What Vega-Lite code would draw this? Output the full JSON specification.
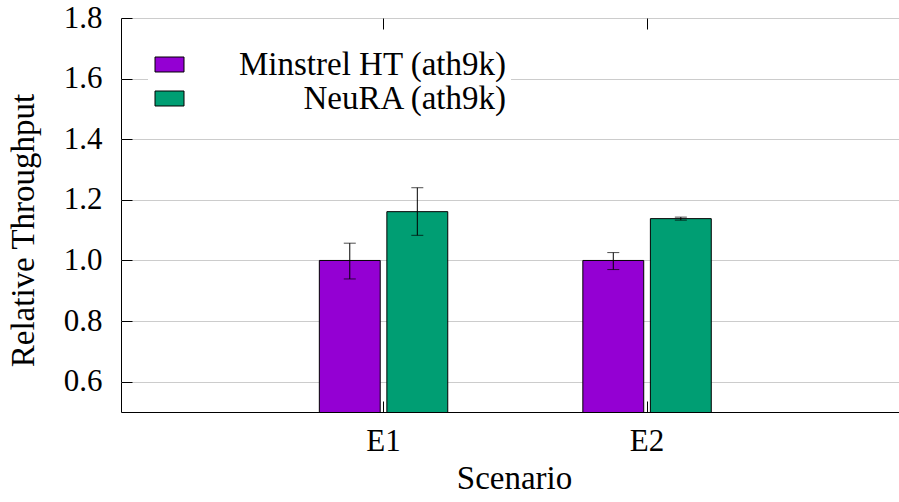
{
  "$schema": "https://vega.github.io/schema/vega-lite/v6.json",
  "width": 780,
  "height": 394,
  "autosize": {"type": "none"},
  "padding": {"left": 121, "top": 18, "right": 0, "bottom": 90},
  "background": "white",
  "config": {
    "font": "Liberation Serif",
    "view": {"stroke": "black", "strokeWidth": 1},
    "text": {"font": "Liberation Serif"}
  },
  "data": {
    "values": [
      {"scenario": "E1", "algo": "Minstrel HT (ath9k)", "value": 1.0, "lo": 0.939, "hi": 1.057},
      {"scenario": "E1", "algo": "NeuRA (ath9k)", "value": 1.161, "lo": 1.083, "hi": 1.24},
      {"scenario": "E2", "algo": "Minstrel HT (ath9k)", "value": 1.0, "lo": 0.97, "hi": 1.026},
      {"scenario": "E2", "algo": "NeuRA (ath9k)", "value": 1.138, "lo": 1.133, "hi": 1.143}
    ]
  },
  "encoding": {
    "xOffset": {
      "field": "algo",
      "type": "nominal",
      "scale": {"domain": ["Minstrel HT (ath9k)", "NeuRA (ath9k)"], "paddingInner": 0.0985, "paddingOuter": 1.045}
    }
  },
  "resolve": {"axis": {"x": "independent"}},
  "layer": [
    {
      "mark": {"type": "bar", "stroke": "black", "strokeWidth": 1, "opacity": 1, "clip": true},
      "encoding": {
        "x": {
          "field": "scenario",
          "type": "nominal",
          "scale": {"type": "band", "paddingInner": 0, "paddingOuter": 0.48, "align": 0.517},
          "axis": {
            "orient": "bottom",
            "title": "Scenario",
            "labelAngle": 0,
            "labelFont": "Liberation Serif",
            "labelFontSize": 31,
            "labelColor": "black",
            "titleFont": "Liberation Serif",
            "titleFontSize": 33,
            "titleFontWeight": "normal",
            "titleColor": "black",
            "domain": false,
            "ticks": true,
            "tickSize": -11,
            "tickColor": "black",
            "labelPadding": 25,
            "titleX": 393,
            "titleY": 76,
            "titleBaseline": "alphabetic",
            "titleAnchor": "middle"
          }
        },
        "y": {
          "field": "value",
          "type": "quantitative",
          "scale": {"domain": [0.5, 1.8], "zero": false, "nice": false},
          "axis": {
            "title": "Relative Throughput",
            "values": [0.6, 0.8, 1.0, 1.2, 1.4, 1.6, 1.8],
            "format": ".1f",
            "labelFont": "Liberation Serif",
            "labelFontSize": 31,
            "labelColor": "black",
            "titleFont": "Liberation Serif",
            "titleFontSize": 33,
            "titleFontWeight": "normal",
            "titleColor": "black",
            "domain": false,
            "tickSize": -11,
            "tickColor": "black",
            "labelPadding": 30,
            "grid": true,
            "gridColor": "#cccccc",
            "gridWidth": 1,
            "titleAngle": -90,
            "titleX": -88,
            "titleY": 212,
            "titleAlign": "center",
            "titleBaseline": "alphabetic"
          }
        },
        "color": {
          "field": "algo",
          "type": "nominal",
          "scale": {"domain": ["Minstrel HT (ath9k)", "NeuRA (ath9k)"], "range": ["#9400D3", "#009E73"]},
          "legend": {
            "title": null,
            "orient": "none",
            "legendX": 27,
            "legendY": 25,
            "padding": 5,
            "fillColor": "white",
            "symbolType": "M-1,-0.517H1V0.517H-1Z",
            "symbolSize": 841,
            "symbolStrokeColor": "black",
            "symbolStrokeWidth": 1,
            "symbolOpacity": 1,
            "labelAlign": "right",
            "labelOffset": 320,
            "labelLimit": 600,
            "labelFont": "Liberation Serif",
            "labelFontSize": 33,
            "labelColor": "black",
            "rowPadding": 0
          }
        }
      }
    },
    {
      "mark": {"type": "rule", "color": "black", "strokeWidth": 1},
      "encoding": {
        "x": {
          "field": "scenario",
          "type": "nominal",
          "axis": {
            "orient": "top",
            "title": null,
            "labels": false,
            "domain": false,
            "ticks": true,
            "tickSize": -11,
            "tickColor": "black"
          }
        },
        "y": {"field": "lo", "type": "quantitative"},
        "y2": {"field": "hi"}
      }
    },
    {
      "mark": {"type": "tick", "color": "black", "size": 12, "thickness": 1},
      "encoding": {
        "x": {"field": "scenario", "type": "nominal", "axis": null},
        "y": {"field": "lo", "type": "quantitative"}
      }
    },
    {
      "mark": {"type": "tick", "color": "black", "size": 12, "thickness": 1},
      "encoding": {
        "x": {"field": "scenario", "type": "nominal", "axis": null},
        "y": {"field": "hi", "type": "quantitative"}
      }
    }
  ]
}
